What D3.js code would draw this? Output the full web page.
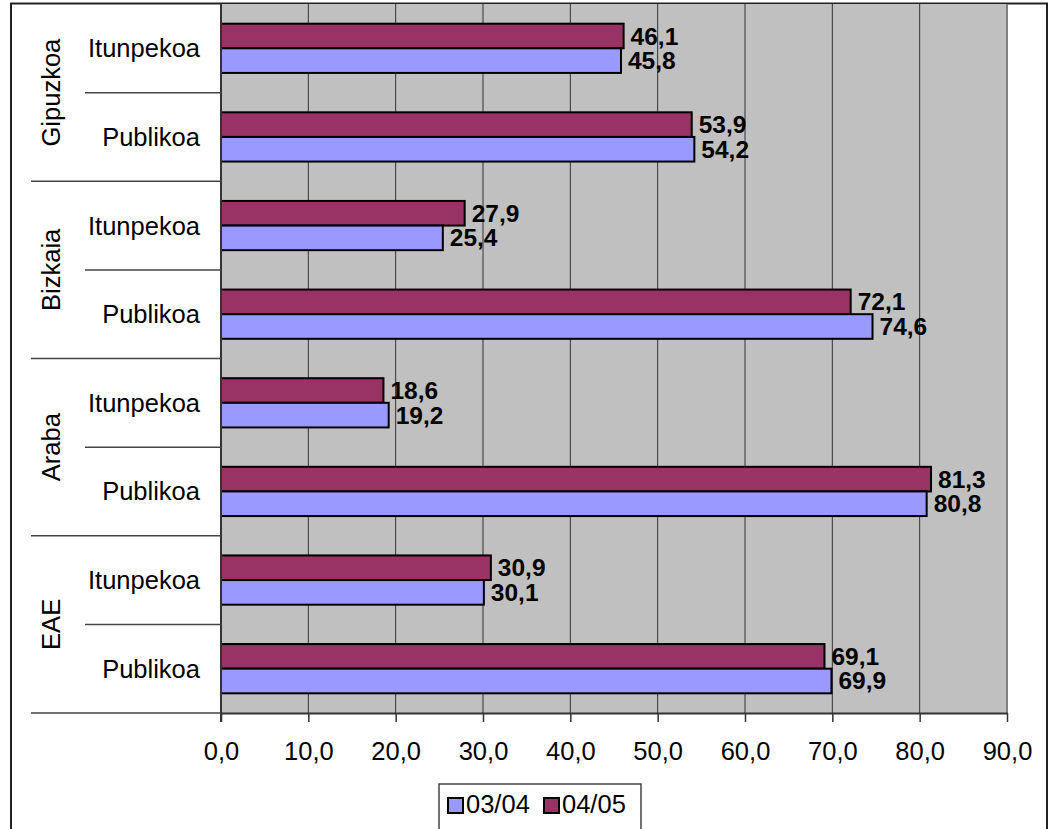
<!DOCTYPE html>
<html>
<head>
<meta charset="utf-8">
<script src="https://cdn.jsdelivr.net/npm/d3@7"></script>
<style>
html,body{margin:0;padding:0;background:#fff;}
svg{display:block;font-family:"Liberation Sans",Arial,sans-serif;}
</style>
</head>
<body>
<svg id="c" width="1053" height="829"></svg>
<script>
const groups = ["Gipuzkoa", "Bizkaia", "Araba", "EAE"];
const types = ["Itunpekoa", "Publikoa"];
const seriesNames = ["04/05", "03/04"];
const legendNames = ["03/04", "04/05"];
const values0304 = [45.8, 54.2, 25.4, 74.6, 19.2, 80.8, 30.1, 69.9];
const values0405 = [46.1, 53.9, 27.9, 72.1, 18.6, 81.3, 30.9, 69.1];
const xTicks = [0, 10, 20, 30, 40, 50, 60, 70, 80, 90];
const colors = {"03/04": "#9999FF", "04/05": "#993366"};

const rows = [];
groups.forEach((g, gi) => types.forEach((t, ti) => {
  const i = gi * 2 + ti;
  rows.push({key: g + "|" + t, group: g, type: t, v: {"03/04": values0304[i], "04/05": values0405[i]}});
}));

const svg = d3.select("#c");
const L = 221, R = 1007, T = 4, B = 713;

// outer border
svg.append("rect").attr("x", 11).attr("y", 3.5).attr("width", 1036).attr("height", 900)
  .attr("fill", "#fff").attr("stroke", "#222").attr("stroke-width", 2);

const x = d3.scaleLinear().domain([0, 90]).range([L, R]);
const y = d3.scaleBand().domain(rows.map(r => r.key)).range([T, B]).padding(0);
const yi = d3.scaleBand().domain(seriesNames).range([0, y.bandwidth()]).paddingInner(0).paddingOuter(0.8);

// plot background
svg.append("rect").attr("x", L).attr("y", T).attr("width", R - L).attr("height", B - T).attr("fill", "#C0C0C0");

// gridlines
svg.append("g").selectAll("line").data(xTicks.slice(1)).join("line")
  .attr("x1", d => x(d)).attr("x2", d => x(d)).attr("y1", T).attr("y2", B)
  .attr("stroke", d => d === 90 ? "#808080" : "#333").attr("stroke-width", d => d === 90 ? 2 : 1);

// bars
const rowG = svg.append("g").selectAll("g").data(rows).join("g")
  .attr("transform", d => `translate(0,${y(d.key)})`);
rowG.selectAll("rect").data(d => seriesNames.map(s => ({s, v: d.v[s]}))).join("rect")
  .attr("x", x(0)).attr("y", d => yi(d.s)).attr("width", d => x(d.v) - x(0)).attr("height", yi.bandwidth())
  .attr("fill", d => colors[d.s]).attr("stroke", "#000").attr("stroke-width", 2);
rowG.selectAll("text").data(d => seriesNames.map(s => ({s, v: d.v[s]}))).join("text")
  .attr("x", d => x(d.v) + 7).attr("y", d => yi(d.s) + yi.bandwidth() / 2 + 8.5)
  .attr("font-size", 24.5).attr("font-weight", "bold").attr("fill", "#000")
  .text(d => d3.format(".1f")(d.v).replace(".", ","));

// x axis
const xAxis = d3.axisBottom(x).tickValues(xTicks).tickSize(9).tickSizeOuter(0)
  .tickFormat(d => d3.format(".1f")(d).replace(".", ","));
const ax = svg.append("g").attr("transform", `translate(0,${B})`).call(xAxis);
ax.select(".domain").attr("stroke", "#333").attr("stroke-width", 2);
ax.selectAll(".tick line").attr("stroke", "#333").attr("stroke-width", 1.5);
ax.selectAll(".tick text").attr("font-size", 25.5).attr("font-family", "Liberation Sans, Arial, sans-serif")
  .attr("fill", "#000").attr("y", 29).attr("dy", "0.71em");

// y axis line
svg.append("line").attr("x1", L).attr("x2", L).attr("y1", T).attr("y2", B + 9).attr("stroke", "#333").attr("stroke-width", 2);

// category labels
svg.append("g").selectAll("text").data(rows).join("text")
  .attr("x", 200).attr("y", d => y(d.key) + y.bandwidth() / 2 + 9)
  .attr("text-anchor", "end").attr("font-size", 25.5).attr("fill", "#000").text(d => d.type);

// separator lines
const bounds = rows.map((r, i) => ({yy: y(r.key) + y.bandwidth(), outer: i % 2 === 1}));
svg.append("g").selectAll("line").data(bounds).join("line")
  .attr("x1", d => d.outer ? 31 : 85).attr("x2", L).attr("y1", d => d.yy).attr("y2", d => d.yy)
  .attr("stroke", "#444").attr("stroke-width", 1.5);

// group labels
svg.append("g").selectAll("text").data(groups).join("text")
  .attr("transform", g => `translate(60,${y(g + "|" + types[0]) + y.bandwidth()}) rotate(-90)`)
  .attr("text-anchor", "middle").attr("font-size", 25.5).attr("fill", "#000").text(g => g);

// legend
const lg = svg.append("g");
lg.append("rect").attr("x", 439).attr("y", 784).attr("width", 202).attr("height", 80)
  .attr("fill", "#fff").attr("stroke", "#444").attr("stroke-width", 1.5);
const lx = [448, 544];
legendNames.forEach((s, i) => {
  lg.append("rect").attr("x", lx[i]).attr("y", 798).attr("width", 15).attr("height", 15)
    .attr("fill", colors[s]).attr("stroke", "#000").attr("stroke-width", 2);
  lg.append("text").attr("x", lx[i] + 18).attr("y", 813).attr("font-size", 25.5).attr("fill", "#000").text(s);
});
</script>
</body>
</html>
